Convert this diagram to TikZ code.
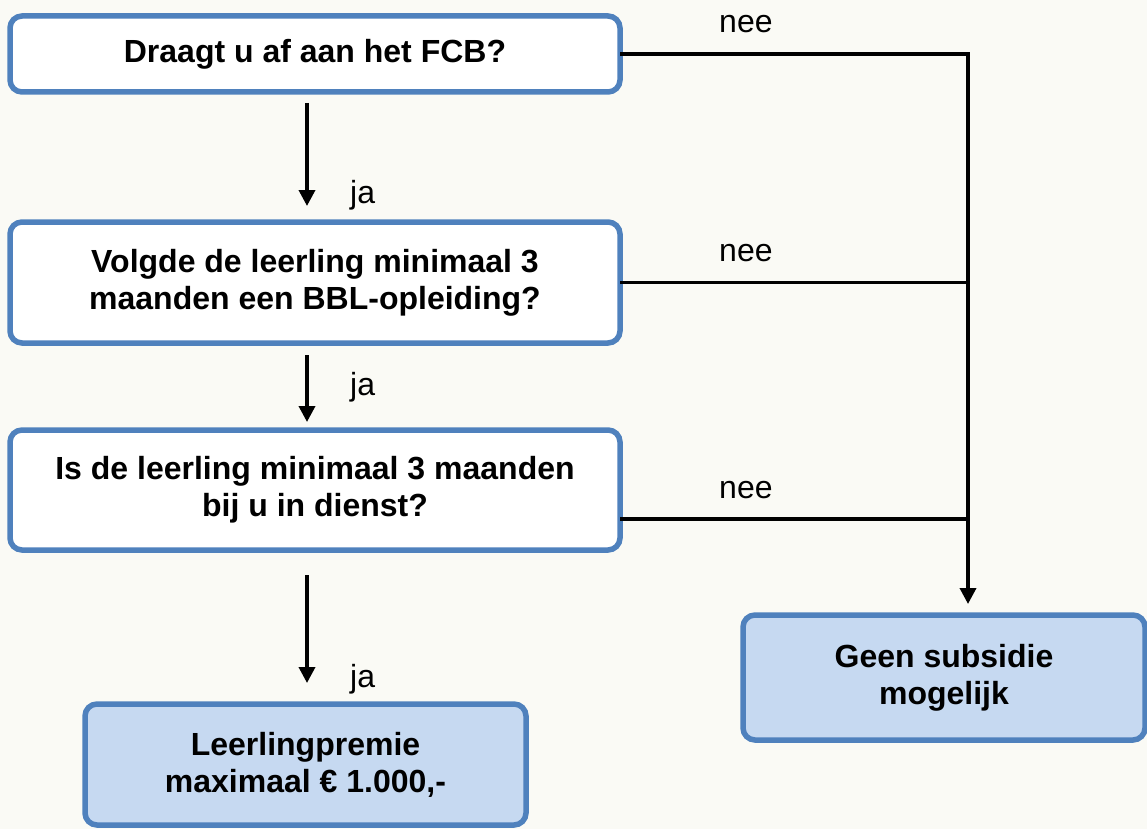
\documentclass[tikz,border=0pt]{standalone}
\usepackage{fontspec}
\setmainfont{Liberation Sans}
\usetikzlibrary{arrows.meta}
\definecolor{bg}{HTML}{FAFAF5}
\definecolor{bordercol}{HTML}{4F81BD}
\definecolor{fillblue}{HTML}{C6D9F1}
\tikzset{
  box/.style={draw=bordercol, line width=5.5pt, rounded corners=12pt, outer sep=0pt,
    align=center, font=\fontsize{32}{37}\selectfont\bfseries, inner sep=0pt},
  qbox/.style={box, fill=white},
  endbox/.style={box, fill=fillblue},
  conn/.style={line width=3.6pt, draw=black},
  arr/.style={conn, -{Triangle[width=16pt,length=16pt]}},
  lbl/.style={font=\fontsize{32}{37}\selectfont, inner sep=0pt, anchor=base west},
}
\begin{document}
\begin{tikzpicture}[x=1pt,y=-1pt]
\fill[bg] (0,0) rectangle (1147,829);
\useasboundingbox (0,0) rectangle (1147,829);

\node[qbox, minimum width=610pt, minimum height=76pt] (b1) at (315,54) {Draagt u af aan het FCB?};
\node[qbox, minimum width=610pt, minimum height=121pt] (b2) at (315,282.5) {Volgde de leerling minimaal 3\\maanden een BBL-opleiding?};
\node[qbox, minimum width=610pt, minimum height=120pt] (b3) at (315,490) {Is de leerling minimaal 3 maanden\\bij u in dienst?};
\node[endbox, minimum width=441pt, minimum height=121pt] (b4) at (305.5,764.5) {Leerlingpremie\\maximaal € 1.000,-};
\node[endbox, minimum width=402pt, minimum height=125pt] (b5) at (944,677.5) {Geen subsidie\\mogelijk};

% yes arrows
\coordinate (a1s) at ([xshift=-8pt,yshift=-11pt]b1.south);
\coordinate (a1e) at ([xshift=-8pt,yshift=16pt]b2.north);
\draw[arr] (a1s) -- (a1e);
\coordinate (a2s) at ([xshift=-8pt,yshift=-12pt]b2.south);
\coordinate (a2e) at ([xshift=-8pt,yshift=8pt]b3.north);
\draw[arr] (a2s) -- (a2e);
\coordinate (a3s) at ([xshift=-8pt,yshift=-25pt]b3.south);
\coordinate (a3e) at ([yshift=21pt]b4.north);
\draw[arr] (a3s) -- (a3s |- a3e);

% no connectors
\coordinate (jx) at ([xshift=24pt,yshift=11pt]b5.north);
\draw[arr] (b1.east) -| (jx);
\draw[conn] (b2.east) -- (b2.east -| jx);
\coordinate (b3r) at ([yshift=-29pt]b3.east);
\draw[conn] (b3r) -- (b3r -| jx);

% labels
\node[lbl] (ja1) at (350,203) {ja};
\node[lbl] (ja2) at (350,395) {ja};
\node[lbl] (ja3) at (350,687) {ja};
\node[lbl] (nee1) at (719,33) {nee};
\node[lbl] (nee2) at (719,261) {nee};
\node[lbl] (nee3) at (719,498) {nee};
\end{tikzpicture}
\end{document}
